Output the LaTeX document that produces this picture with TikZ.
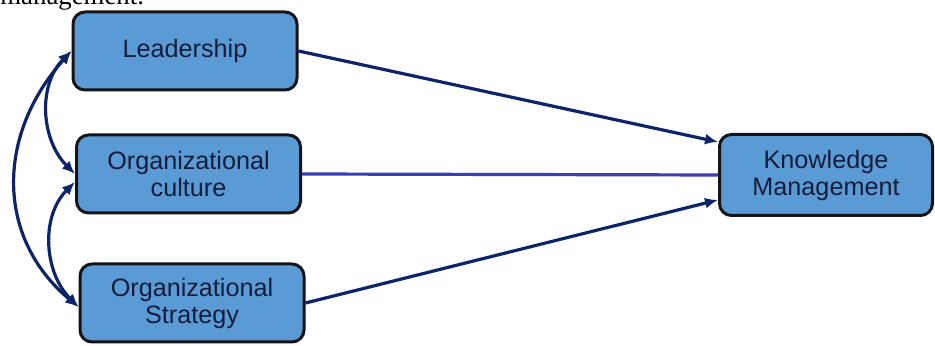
\documentclass[tikz,border=0pt]{standalone}
\usepackage{fontspec}
\setmainfont{Liberation Sans}
\newfontfamily\capfont{Liberation Serif}
\usetikzlibrary{arrows.meta}
\definecolor{boxblue}{RGB}{91,155,213}
\definecolor{arrownavy}{RGB}{14,36,104}
\definecolor{lineblue}{RGB}{58,62,182}
\definecolor{textnavy}{RGB}{18,28,58}
\definecolor{edgeblack}{RGB}{20,20,24}

\begin{document}
\begin{tikzpicture}[x=0.5pt,y=0.5pt,
  block/.style={draw=edgeblack,line width=1.5pt,fill=boxblue,rounded corners=6pt,minimum width=112pt,minimum height=39pt,align=center,text=textnavy,font=\fontsize{12.6}{13.5}\selectfont,inner sep=2pt},
  link/.style={draw=arrownavy,line width=1.6pt,-{Latex[length=6.5pt,width=5.5pt]}},
  both/.style={link,{Latex[length=6.5pt,width=5.5pt]}-{Latex[length=6.5pt,width=5.5pt]}}]
\useasboundingbox (0,0) rectangle (935,346);
\node[anchor=base west,inner sep=0pt,font=\capfont\fontsize{13.4}{14}\selectfont] (cap) at (0,341) {management.};

\node[block] (lead) at (185,295) {Leadership};
\node[block] (cult) at (188.5,172) {Organizational\\culture};
\node[block] (strat) at (192,43) {Organizational\\Strategy};
\node[block,minimum width=106.5pt,minimum height=40.5pt] (km) at (826,171) {Knowledge\\Management};

\draw[link] (lead.east) -- (km.163);
\draw[line width=1.6pt,lineblue] (cult.east) -- (km.west);
\draw[link] (strat.east) -- (km.193);

\draw[both] (lead.west) to[out=225,in=135] (cult.180);
\draw[both] (cult.184) to[out=225,in=135] (strat.182);
\draw[both] (lead.west) to[out=228,in=140,looseness=1.1] (strat.182);
\end{tikzpicture}
\end{document}
